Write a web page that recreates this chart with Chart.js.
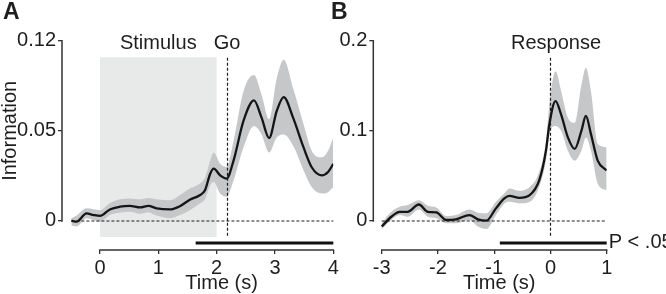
<!DOCTYPE html>
<html>
<head>
<meta charset="utf-8">
<script src="https://cdn.jsdelivr.net/npm/chart.js@4"></script>
<style>
  html, body { margin: 0; padding: 0; background: #fff; }
  #wrap { position: relative; width: 666px; height: 294px; overflow: hidden; }
  canvas { position: absolute; top: 0; }
  #chartA { left: 0; }
  #chartB { left: 330px; }
</style>
</head>
<body>
<div id="wrap">
  <canvas id="chartA" width="345" height="294"></canvas>
  <canvas id="chartB" width="336" height="294"></canvas>
</div>
<script>
// Panel A: information aligned to stimulus onset
const timeA  = [-0.49, -0.4, -0.23, -0.11, 0, 0.17, 0.34, 0.51, 0.69, 0.83, 0.97, 1.2, 1.37, 1.54, 1.71, 1.8, 1.89, 1.95, 2.06, 2.17, 2.29, 2.46, 2.64, 2.77, 2.9, 3.03, 3.15, 3.31, 3.49, 3.63, 3.8, 3.91, 4.0];
const meanA  = [0.0002, -0.0004, 0.0042, 0.0033, 0.0028, 0.0064, 0.0079, 0.0084, 0.0075, 0.0084, 0.007, 0.0064, 0.0082, 0.0118, 0.0143, 0.017, 0.0262, 0.029, 0.0253, 0.0235, 0.0335, 0.0555, 0.0669, 0.0573, 0.046, 0.061, 0.0687, 0.0573, 0.0408, 0.0298, 0.0253, 0.0272, 0.0317];
const upperA = [0.0015, 0.003, 0.007, 0.0065, 0.006, 0.01, 0.012, 0.0125, 0.012, 0.0127, 0.012, 0.0115, 0.0143, 0.018, 0.0207, 0.024, 0.0335, 0.038, 0.0317, 0.030, 0.0445, 0.072, 0.081, 0.070, 0.0564, 0.079, 0.0894, 0.0738, 0.0537, 0.039, 0.0353, 0.039, 0.0463];
const lowerA = [-0.0027, -0.003, 0.0015, 0.0005, -0.0004, 0.0033, 0.0045, 0.0051, 0.004, 0.0049, 0.003, 0.0015, 0.0033, 0.006, 0.0097, 0.012, 0.0198, 0.0216, 0.0152, 0.0134, 0.0225, 0.0408, 0.0527, 0.048, 0.038, 0.0463, 0.048, 0.0418, 0.028, 0.0188, 0.0152, 0.016, 0.0188];
const xTicksA = [0, 1, 2, 3, 4];
const yTicksA = [0, 0.05, 0.1];
const yTickLabelsA = ['0', '0.05', '0.12'];   // top label as printed in the figure
const stimulusA = [0, 2];
const goTimeA = 2.18;
const sigA = [1.64, 4];

// Panel B: information aligned to response
const timeB  = [-3.0, -2.83, -2.68, -2.54, -2.34, -2.18, -2.03, -1.85, -1.68, -1.44, -1.29, -1.14, -0.97, -0.82, -0.73, -0.55, -0.37, -0.2, -0.08, -0.02, 0.09, 0.19, 0.31, 0.43, 0.55, 0.63, 0.72, 0.84, 1.0];
const meanB  = [-0.0062, 0.0047, 0.0102, 0.0102, 0.0183, 0.0102, 0.0095, 0.0011, 0.0018, 0.0066, 0.0018, 0.0004, 0.014, 0.025, 0.0278, 0.0256, 0.0286, 0.045, 0.078, 0.107, 0.133, 0.118, 0.0927, 0.0799, 0.1, 0.1165, 0.0964, 0.067, 0.056];
const upperB = [-0.0025, 0.0102, 0.0157, 0.0176, 0.023, 0.017, 0.015, 0.0055, 0.0066, 0.0128, 0.0092, 0.0084, 0.0212, 0.0304, 0.036, 0.0335, 0.0377, 0.0542, 0.089, 0.129, 0.166, 0.144, 0.1146, 0.109, 0.151, 0.170, 0.144, 0.0854, 0.082];
const lowerB = [-0.009, 0.001, 0.0066, 0.0047, 0.0128, 0.0047, 0.003, -0.0025, -0.0025, 0.0011, -0.0062, -0.009, 0.0066, 0.0194, 0.0212, 0.0194, 0.0212, 0.0377, 0.067, 0.096, 0.1055, 0.1, 0.078, 0.067, 0.078, 0.0927, 0.078, 0.0414, 0.034];
const xTicksB = [-3, -2, -1, 0, 1];
const yTicksB = [0, 0.1, 0.2];
const yTickLabelsB = ['0', '0.1', '0.2'];
const responseTimeB = 0;
const sigB = [-0.9, 1];

const FONT = '"Liberation Sans", Arial, Helvetica, sans-serif';
const INK = '#1e1e1e';
const BAND = '#c6c7c8';

Chart.defaults.font.family = FONT;
Chart.defaults.font.size = 20;
Chart.defaults.color = INK;

function pts(t, v) {
  return t.map((x, i) => ({ x: x, y: v[i] }));
}

// extra drawing: shaded epoch, event lines, axis lines, labels, significance bar
const decor = {
  id: 'decor',
  beforeDatasetsDraw(chart, args, o) {
    const { ctx, chartArea, scales: { x, y } } = chart;
    if (o.box) {
      const top = chartArea.top + 16.5;
      const bottom = y.getPixelForValue(0) + 16;
      const l = x.getPixelForValue(o.box[0]);
      const r = x.getPixelForValue(o.box[1]);
      ctx.save();
      ctx.fillStyle = '#e8e9e9';
      ctx.fillRect(l, top, r - l, bottom - top);
      ctx.restore();
    }
  },
  afterDatasetsDraw(chart, args, o) {
    const { ctx, chartArea, scales: { x, y } } = chart;
    const zero = y.getPixelForValue(0);
    ctx.save();

    // dashed zero line and event line
    ctx.strokeStyle = INK;
    ctx.lineWidth = 1.2;
    ctx.setLineDash([3, 2]);
    ctx.beginPath();
    ctx.moveTo(x.getPixelForValue(o.t0), zero);
    ctx.lineTo(x.getPixelForValue(o.t1), zero);
    const ex = Math.round(x.getPixelForValue(o.event)) + 0.5;
    ctx.moveTo(ex, chartArea.top + 17);
    ctx.lineTo(ex, zero + 16);
    ctx.stroke();
    ctx.setLineDash([]);

    // axis lines (only over the tick span)
    ctx.lineWidth = 1.5;
    ctx.strokeStyle = '#333';
    ctx.beginPath();
    const ax = chartArea.left;
    ctx.moveTo(ax, y.getPixelForValue(o.yTicks[0]) + 0.75);
    ctx.lineTo(ax, y.getPixelForValue(o.yTicks[o.yTicks.length - 1]) - 0.75);
    const ay = chartArea.bottom;
    ctx.moveTo(x.getPixelForValue(o.xTicks[0]) - 0.75, ay);
    ctx.lineTo(x.getPixelForValue(o.xTicks[o.xTicks.length - 1]) + 0.75, ay);
    ctx.stroke();

    // significance bar
    ctx.lineWidth = 3;
    ctx.strokeStyle = '#111';
    ctx.beginPath();
    ctx.moveTo(x.getPixelForValue(o.sig[0]), zero + 22);
    ctx.lineTo(x.getPixelForValue(o.sig[1]), zero + 22);
    ctx.stroke();

    // text
    ctx.fillStyle = INK;
    ctx.font = '20px ' + FONT;
    ctx.textAlign = 'center';
    ctx.textBaseline = 'middle';
    o.labels.forEach(lb => ctx.fillText(lb.text, x.getPixelForValue(lb.t), 43));
    const xMid = (x.getPixelForValue(o.xTicks[0]) + x.getPixelForValue(o.xTicks[o.xTicks.length - 1])) / 2;
    ctx.fillText('Time (s)', xMid + 5, 283);
    if (o.pText) {
      ctx.textAlign = 'left';
      ctx.fillText(o.pText, x.getPixelForValue(o.sig[1]) + 2, zero + 22);
    }
    if (o.yTitle) {
      ctx.save();
      ctx.translate(10, (zero + y.getPixelForValue(o.yTicks[o.yTicks.length - 1])) / 2);
      ctx.rotate(-Math.PI / 2);
      ctx.textAlign = 'center';
      ctx.fillText(o.yTitle, 0, 0);
      ctx.restore();
    }
    ctx.font = 'bold 23px ' + FONT;
    ctx.textAlign = 'left';
    ctx.fillText(o.letter, o.letterX, 13);
    ctx.restore();
  }
};

function zeroPad(scale) {
  scale.paddingLeft = 0;
  scale.paddingRight = 0;
  scale.paddingTop = 0;
  scale.paddingBottom = 0;
}

function makeChart(id, cfg) {
  return new Chart(document.getElementById(id), {
    type: 'line',
    data: {
      datasets: [
        { data: pts(cfg.time, cfg.upper), borderWidth: 0, backgroundColor: BAND, fill: '+1', order: 1 },
        { data: pts(cfg.time, cfg.lower), borderWidth: 0, fill: false, order: 1 },
        { data: pts(cfg.time, cfg.mean), borderColor: '#151515', borderWidth: 2.3, fill: false, order: 0 }
      ]
    },
    options: {
      responsive: false,
      animation: false,
      devicePixelRatio: 1,
      layout: { padding: cfg.padding },
      elements: {
        point: { radius: 0 },
        line: { cubicInterpolationMode: 'monotone' }
      },
      scales: {
        x: {
          type: 'linear',
          min: cfg.xMin,
          max: cfg.xMax,
          border: { display: false },
          grid: { drawOnChartArea: false, drawTicks: true, tickLength: 4, color: '#333', lineWidth: 1.3 },
          ticks: { padding: 2, maxRotation: 0, color: INK },
          afterBuildTicks: s => { s.ticks = cfg.xTicks.map(v => ({ value: v })); },
          afterFit: s => { s.height = cfg.xAxisHeight; zeroPad(s); }
        },
        y: {
          min: cfg.yMin,
          max: cfg.yMax,
          border: { display: false },
          grid: { drawOnChartArea: false, drawTicks: true, tickLength: 4, color: '#333', lineWidth: 1.3 },
          ticks: { padding: 2, color: INK, callback: (v, i) => cfg.yLabels[i] },
          afterBuildTicks: s => { s.ticks = cfg.yTicks.map(v => ({ value: v })); },
          afterFit: s => { s.width = cfg.yAxisWidth; zeroPad(s); }
        }
      },
      plugins: {
        legend: { display: false },
        tooltip: { enabled: false },
        decor: cfg.decor
      }
    },
    plugins: [decor]
  });
}

makeChart('chartA', {
  time: timeA, mean: meanA, upper: upperA, lower: lowerA,
  xMin: -0.651, xMax: 4, yMin: -0.0161, yMax: 0.1,
  xTicks: xTicksA, yTicks: yTicksA, yLabels: yTickLabelsA,
  yAxisWidth: 62, xAxisHeight: 44,
  padding: { left: 0, right: 11.7, top: 40.7, bottom: 0 },
  decor: {
    box: stimulusA, event: goTimeA, sig: sigA,
    t0: timeA[0], t1: timeA[timeA.length - 1],
    xTicks: xTicksA, yTicks: yTicksA,
    labels: [{ text: 'Stimulus', t: 1 }, { text: 'Go', t: goTimeA }],
    yTitle: 'Information', letter: 'A', letterX: 3
  }
});

makeChart('chartB', {
  time: timeB, mean: meanB, upper: upperB, lower: lowerB,
  xMin: -3.15, xMax: 1, yMin: -0.0322, yMax: 0.2,
  xTicks: xTicksB, yTicks: yTicksB, yLabels: yTickLabelsB,
  yAxisWidth: 43.3, xAxisHeight: 44,
  padding: { left: 0, right: 59.3, top: 40.7, bottom: 0 },
  decor: {
    box: null, event: responseTimeB, sig: sigB,
    t0: timeB[0], t1: timeB[timeB.length - 1],
    xTicks: xTicksB, yTicks: yTicksB,
    labels: [{ text: 'Response', t: 0.1 }],
    pText: 'P < .05', letter: 'B', letterX: 1
  }
});
</script>
</body>
</html>
